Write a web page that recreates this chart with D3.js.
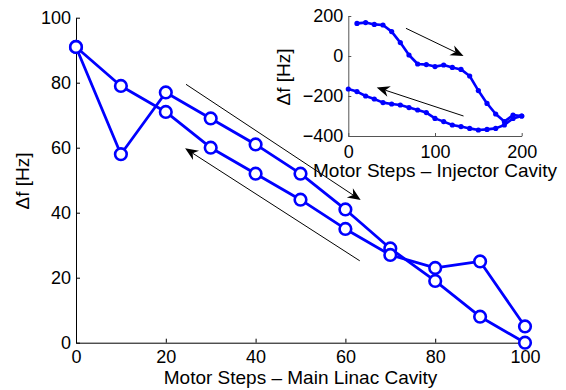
<!DOCTYPE html>
<html>
<head>
<meta charset="utf-8">
<script src="https://cdn.jsdelivr.net/npm/d3@7"></script>
<style>
  body { margin: 0; background: #fff; }
  text { font-family: "Liberation Sans", Arial, Helvetica, sans-serif; }
</style>
</head>
<body>
<script>
// main plot: main linac cavity, forward and return pass
const steps = [0, 10, 20, 30, 40, 50, 60, 70, 80, 90, 100]
const upPass = [91, 58, 77, 69, 61, 52, 41, 29, 19, 8, 0]
const downPass = [91, 79, 71, 60, 52, 44, 35, 27, 23, 25, 5]
const mainXTicks = [0, 20, 40, 60, 80, 100]
const mainYTicks = [0, 20, 40, 60, 80, 100]

// inset: injector cavity
const injUpSteps = [10, 20, 30, 40, 50, 60, 70, 80, 90, 100, 110, 120, 130, 140, 150, 160, 170, 180, 190, 200]
const injUp = [163, 167, 158, 155, 122, 67, 5, -40, -43, -53, -45, -57, -67, -100, -173, -237, -290, -328, -295, -300]
const injDownSteps = [200, 190, 180, 170, 160, 150, 140, 130, 120, 110, 100, 90, 80, 70, 60, 50, 40, 30, 20, 10, 0]
const injDown = [-300, -312, -345, -362, -367, -370, -362, -353, -345, -328, -312, -283, -270, -258, -245, -240, -233, -215, -200, -178, -165]
const injXTicks = [0, 100, 200]
const injYTicks = [-400, -200, 0, 200]

// direction arrows, [x0, y0, x1, y1] in data units
const mainArrows = [[24.5, 79.5, 63.4, 43.9], [63.2, 25.2, 24.3, 59.8]]
const injArrows = [[66.5, 138.5, 132.9, 0], [132.9, -300, 32.8, -157]]

const W = 566, H = 390
const blue = '#0000ff'
const tickFont = 18, labelFont = 19

const svg = d3.select('body').append('svg')
  .attr('width', W).attr('height', H)

const x = d3.scaleLinear().domain([0, 100]).range([76, 525])
const y = d3.scaleLinear().domain([0, 100]).range([342.7, 17.7])

const xi = d3.scaleLinear().domain([0, 200]).range([348.3, 521.7])
const yi = d3.scaleLinear().domain([-400, 200]).range([136, 16])

function drawArrow(g, sx, sy, a) {
  const x0 = sx(a[0]), y0 = sy(a[1]), x1 = sx(a[2]), y1 = sy(a[3])
  const ang = Math.atan2(y1 - y0, x1 - x0)
  const L = 13, hw = 5.5, notch = 9
  const ux = Math.cos(ang), uy = Math.sin(ang)
  const px = -uy, py = ux
  g.append('line')
    .attr('x1', x0).attr('y1', y0)
    .attr('x2', x1 - ux * notch).attr('y2', y1 - uy * notch)
    .attr('stroke', '#000').attr('stroke-width', 1)
  const pts = [
    [x1, y1],
    [x1 - ux * L + px * hw, y1 - uy * L + py * hw],
    [x1 - ux * notch, y1 - uy * notch],
    [x1 - ux * L - px * hw, y1 - uy * L - py * hw]
  ]
  g.append('path').attr('d', 'M' + pts.join('L') + 'Z').attr('fill', '#000')
}

// ---- main axes
const main = svg.append('g')

main.append('g')
  .attr('transform', `translate(0,${y(0)})`)
  .call(d3.axisBottom(x).tickValues(mainXTicks).tickSizeInner(-4).tickSizeOuter(0).tickPadding(8))
  .call(g => g.selectAll('text').attr('font-size', tickFont).attr('fill', '#000'))
  .call(g => g.selectAll('line,path').attr('stroke', '#000'))

main.append('g')
  .attr('transform', `translate(${x(0)},0)`)
  .call(d3.axisLeft(y).tickValues(mainYTicks).tickSizeInner(-4).tickSizeOuter(0).tickPadding(5))
  .call(g => g.selectAll('text').attr('font-size', tickFont).attr('fill', '#000'))
  .call(g => g.selectAll('line,path').attr('stroke', '#000'))

main.append('text')
  .attr('x', (x(0) + x(100)) / 2).attr('y', 384)
  .attr('text-anchor', 'middle').attr('font-size', labelFont)
  .text('Motor Steps – Main Linac Cavity')

main.append('text')
  .attr('transform', `translate(29,181) rotate(-90)`)
  .attr('text-anchor', 'middle').attr('font-size', labelFont)
  .text('Δf [Hz]')

mainArrows.forEach(a => drawArrow(main, x, y, a))

const mline = d3.line().x(d => x(d[0])).y(d => y(d[1]))
;[upPass, downPass].forEach(vals => {
  const pts = steps.map((s, i) => [s, vals[i]])
  main.append('path').datum(pts)
    .attr('d', mline).attr('fill', 'none')
    .attr('stroke', blue).attr('stroke-width', 2.8).attr('stroke-linejoin', 'round')
  main.selectAll(null).data(pts).enter().append('circle')
    .attr('cx', d => x(d[0])).attr('cy', d => y(d[1])).attr('r', 5.8)
    .attr('fill', '#fff').attr('stroke', blue).attr('stroke-width', 2.6)
})

// ---- inset
const inset = svg.append('g')

inset.append('g')
  .attr('transform', `translate(0,${yi(-400)})`)
  .call(d3.axisBottom(xi).tickValues(injXTicks).tickSizeInner(-3).tickSizeOuter(0).tickPadding(9))
  .call(g => g.selectAll('text').attr('font-size', tickFont).attr('fill', '#000'))
  .call(g => g.selectAll('line,path').attr('stroke', '#555'))

inset.append('g')
  .attr('transform', `translate(${xi(0)},0)`)
  .call(d3.axisLeft(yi).tickValues(injYTicks).tickSizeInner(-3).tickSizeOuter(0).tickPadding(5))
  .call(g => g.selectAll('text').attr('font-size', tickFont).attr('fill', '#000'))
  .call(g => g.selectAll('line,path').attr('stroke', '#555'))

inset.append('text')
  .attr('x', (xi(0) + xi(200)) / 2).attr('y', 177)
  .attr('text-anchor', 'middle').attr('font-size', labelFont)
  .text('Motor Steps – Injector Cavity')

inset.append('text')
  .attr('transform', `translate(290,77) rotate(-90)`)
  .attr('text-anchor', 'middle').attr('font-size', labelFont)
  .text('Δf [Hz]')

injArrows.forEach(a => drawArrow(inset, xi, yi, a))

const iline = d3.line().x(d => xi(d[0])).y(d => yi(d[1]))
;[[injUpSteps, injUp], [injDownSteps, injDown]].forEach(([xs, vals]) => {
  const pts = xs.map((s, i) => [s, vals[i]])
  inset.append('path').datum(pts)
    .attr('d', iline).attr('fill', 'none')
    .attr('stroke', blue).attr('stroke-width', 2.6).attr('stroke-linejoin', 'round')
  inset.selectAll(null).data(pts).enter().append('circle')
    .attr('cx', d => xi(d[0])).attr('cy', d => yi(d[1])).attr('r', 2.6)
    .attr('fill', blue)
})
</script>
</body>
</html>
